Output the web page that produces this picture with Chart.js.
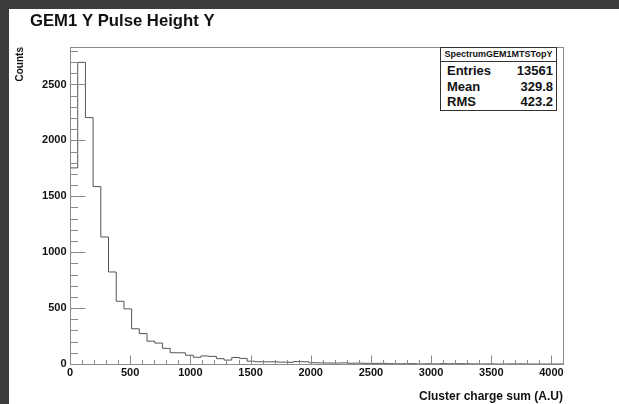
<!DOCTYPE html>
<html>
<head>
<meta charset="utf-8">
<script src="https://cdn.jsdelivr.net/npm/chart.js@4"></script>
<style>
  html, body { margin: 0; padding: 0; background: #3c3c3c; width: 619px; height: 404px; overflow: hidden; }
  #paper { position: absolute; left: 9px; top: 9px; width: 610px; height: 395px; background: #ffffff; }
  #c { position: absolute; left: 0; top: 0; }
  #stats { position: absolute; left: 440px; top: 47px; width: 117px; height: 64px; border: 1px solid #333; background: #fff;
           font-family: "Liberation Sans", Arial, sans-serif; font-weight: bold; color: #111; box-sizing: border-box; }
  #stats .hdr { height: 13px; border-bottom: 1px solid #333; font-size: 9px; line-height: 13px; text-align: center; }
  #stats .row { position: relative; height: 15.5px; font-size: 13px; line-height: 15.5px; }
  #stats .row .k { position: absolute; left: 6px; }
  #stats .row .v { position: absolute; right: 3px; }
</style>
</head>
<body>
<div id="paper"></div>
<canvas id="c" width="619" height="404"></canvas>
<div id="stats">
  <div class="hdr" id="statsName"></div>
  <div id="statsRows" style="padding-top:1px"></div>
</div>
<script>
// ---- data ----
const chartTitle = "GEM1 Y Pulse Height Y";
const xTitle = "Cluster charge sum (A.U)";
const yTitle = "Counts";
const histName = "SpectrumGEM1MTSTopY";
const statLabels = ["Entries", "Mean", "RMS"];
const statValues = ["13561", "329.8", "423.2"];

const binWidth = 64;          // 64 bins over 0..4096
const xMin = 0, xMax = 4096;
const yMin = 0, yMax = 2835;
const counts = [
  1754, 2698, 2204, 1587, 1136, 823, 561, 493,
  315, 272, 204, 187, 140, 101, 100, 78,
  60, 72, 68, 48, 35, 58, 50, 25,
  20, 19, 20, 17, 15, 22, 20, 12,
  10, 9, 8, 10, 7, 8, 6, 5,
  6, 3, 2, 2, 3, 1, 2, 1,
  3, 2, 3, 2, 1, 0, 1, 0,
  0, 1, 1, 0, 0, 0, 0, 0
];
const xMajorTicks = [0, 500, 1000, 1500, 2000, 2500, 3000, 3500, 4000];
const yMajorTicks = [0, 500, 1000, 1500, 2000, 2500];
const minorStep = 100;

// ---- stats box ----
document.getElementById('statsName').textContent = histName;
const rowsEl = document.getElementById('statsRows');
statLabels.forEach((l, i) => {
  const r = document.createElement('div'); r.className = 'row';
  r.innerHTML = '<span class="k"></span><span class="v"></span>';
  r.querySelector('.k').textContent = l;
  r.querySelector('.v').textContent = statValues[i];
  rowsEl.appendChild(r);
});

// ---- histogram outline points (left bin edges, stepped) ----
const points = counts.map((v, i) => ({ x: i * binWidth, y: v }));
points.push({ x: xMax, y: counts[counts.length - 1] });

const FONT = "'Liberation Sans', Arial, Helvetica, sans-serif";
const AXIS_COLOR = '#8a8a8a';

function tickList(maxVal) {
  const arr = [];
  for (let v = 0; v <= maxVal; v += minorStep) arr.push({ value: v });
  return arr;
}

const frameTicks = {
  id: 'frameTicks',
  afterDatasetsDraw(chart) {
    const { ctx, chartArea: a, scales: { x, y } } = chart;
    ctx.save();
    ctx.strokeStyle = AXIS_COLOR;
    ctx.lineWidth = 1;
    const L = Math.round(a.left) + 0.5, R = Math.round(a.right) + 0.5;
    const T = Math.round(a.top) + 0.5, B = Math.round(a.bottom) + 0.5;
    ctx.strokeRect(L, T, R - L, B - T);
    ctx.beginPath();
    x.ticks.forEach(t => {
      const px = Math.round(x.getPixelForValue(t.value)) + 0.5;
      const len = xMajorTicks.includes(t.value) ? 9 : 4.5;
      ctx.moveTo(px, B); ctx.lineTo(px, B - len);
    });
    y.ticks.forEach(t => {
      const py = Math.round(y.getPixelForValue(t.value)) + 0.5;
      const len = yMajorTicks.includes(t.value) ? 15 : 7.5;
      ctx.moveTo(L, py); ctx.lineTo(L + len, py);
    });
    ctx.stroke();
    ctx.restore();
  }
};

new Chart(document.getElementById('c'), {
  type: 'line',
  data: {
    datasets: [{
      data: points,
      stepped: true,
      borderColor: '#555555',
      borderWidth: 1,
      pointRadius: 0,
      fill: false,
      tension: 0
    }]
  },
  options: {
    responsive: false,
    animation: false,
    devicePixelRatio: 1,
    layout: { padding: { left: 30, right: 56, top: 0, bottom: 0 } },
    plugins: {
      legend: { display: false },
      tooltip: { enabled: false },
      title: {
        display: true,
        text: chartTitle,
        align: 'start',
        color: '#111',
        font: { family: FONT, size: 16.7, weight: 'bold', lineHeight: 1.2 },
        padding: { top: 11, bottom: 16 }
      }
    },
    scales: {
      x: {
        type: 'linear',
        min: xMin, max: xMax,
        afterBuildTicks: s => { s.ticks = tickList(4000); },
        afterFit: s => { s.height = 40; },
        grid: { display: false, drawTicks: false },
        border: { display: false },
        ticks: {
          autoSkip: false, maxRotation: 0, padding: 2,
          color: '#111',
          font: { family: FONT, size: 11, weight: 'bold' },
          callback: v => xMajorTicks.includes(v) ? String(v) : ''
        },
        title: {
          display: true, text: xTitle, align: 'end', color: '#111',
          font: { family: FONT, size: 12, weight: 'bold', lineHeight: 1.2 },
          padding: { top: 0, bottom: 0 }
        }
      },
      y: {
        type: 'linear',
        min: yMin, max: yMax,
        afterBuildTicks: s => { s.ticks = tickList(2800); },
        afterFit: s => { s.width = 40; },
        grid: { display: false, drawTicks: false },
        border: { display: false },
        ticks: {
          autoSkip: false, padding: 3.5,
          color: '#111',
          font: { family: FONT, size: 11, weight: 'bold' },
          callback: v => yMajorTicks.includes(v) ? String(v) : ''
        },
        title: {
          display: true, text: yTitle, align: 'end', color: '#111',
          font: { family: FONT, size: 10, weight: 'bold', lineHeight: 1.2 },
          padding: { top: -16, bottom: 0 }
        }
      }
    }
  },
  plugins: [frameTicks]
});
</script>
</body>
</html>
